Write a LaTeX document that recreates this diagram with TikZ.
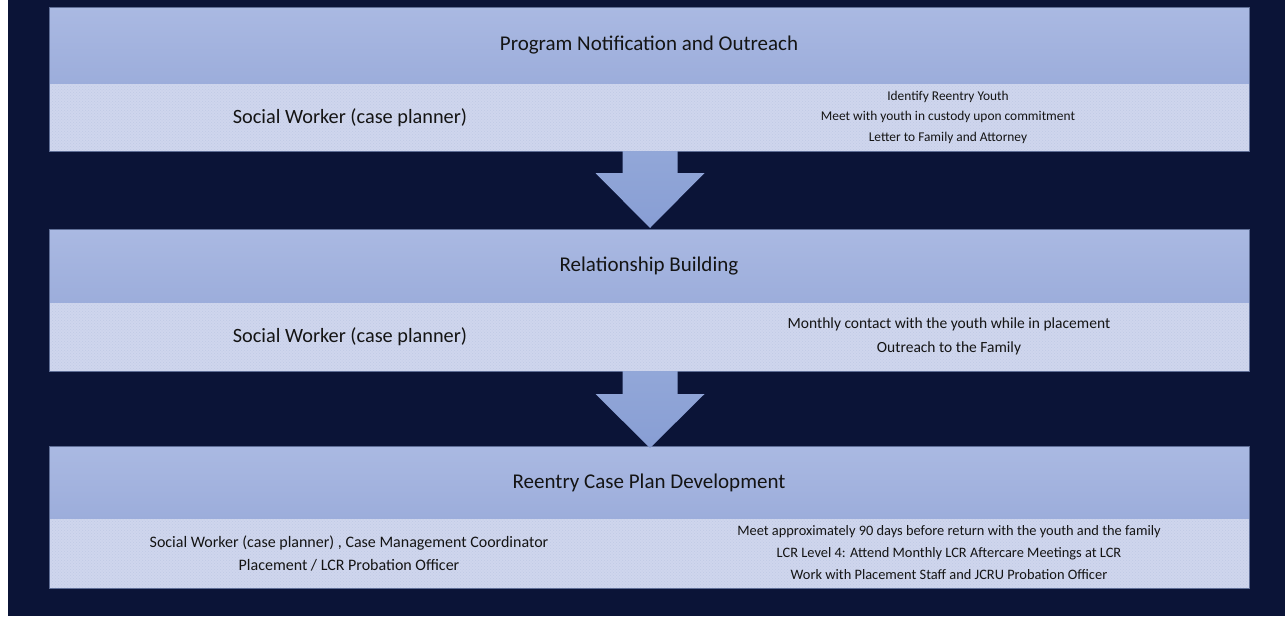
\documentclass[tikz,border=0pt]{standalone}
\usepackage{fontspec}
\setmainfont{Carlito}
\usetikzlibrary{patterns,calc}
\definecolor{navy}{RGB}{11,20,55}
\definecolor{headtop}{RGB}{170,185,226}
\definecolor{headbot}{RGB}{156,173,219}
\definecolor{contentc}{RGB}{207,214,237}
\definecolor{dotc}{RGB}{192,201,229}
\definecolor{arrowtop}{RGB}{146,167,216}
\definecolor{arrowbot}{RGB}{136,158,212}
\definecolor{edgec}{RGB}{95,110,150}
\definecolor{txt}{RGB}{20,20,20}
\begin{document}
\begin{tikzpicture}[x=1pt,y=-1pt,
  header/.style={shade, top color=headtop, bottom color=headbot, minimum width=1200, anchor=north west, inner sep=0, outer sep=0},
  contentbox/.style={fill=contentc, minimum width=1200, anchor=north west, inner sep=0, outer sep=0},
  frame/.style={draw=edgec, line width=0.9pt},
  title/.style={text=txt, font=\fontsize{21}{25}\selectfont},
  role/.style={text=txt, font=\fontsize{20.3}{24}\selectfont, align=center},
  tasks/.style={text=txt, align=center},
  blockarrow/.style={shade, top color=arrowtop, bottom color=arrowbot}
]
\useasboundingbox (0,0) rectangle (1288,616);
\fill[white] (0,0) rectangle (1288,616);
\fill[navy] (8,0) rectangle (1285,616);

% box 1
\node[header, minimum height=77] (h1) at (49,7) {};
\node[contentbox, minimum height=67] (c1) at (49,84) {};
\fill[pattern=crosshatch dots, pattern color=dotc] (c1.north west) rectangle (c1.south east);
\draw[frame] (h1.north west) rectangle (c1.south east);
\node[title] (t1) at (h1.center) {Program Notification and Outreach};
\node[role] (r1) at (350,118) {Social Worker (case planner)};
\node[tasks, font=\fontsize{13.4}{20.5}\selectfont] (k1) at (948,117) {Identify Reentry Youth\\Meet with youth in custody upon commitment\\Letter to Family and Attorney};

% box 2
\node[header, minimum height=74] (h2) at (49,229) {};
\node[contentbox, minimum height=68] (c2) at (49,303) {};
\fill[pattern=crosshatch dots, pattern color=dotc] (c2.north west) rectangle (c2.south east);
\draw[frame] (h2.north west) rectangle (c2.south east);
\node[title] (t2) at (h2.center) {Relationship Building};
\node[role] (r2) at (350,337) {Social Worker (case planner)};
\node[tasks, font=\fontsize{15.5}{24}\selectfont] (k2) at (949,336) {Monthly contact with the youth while in placement\\Outreach to the Family};

% box 3
\node[header, minimum height=73] (h3) at (49,446) {};
\node[contentbox, minimum height=69] (c3) at (49,519) {};
\fill[pattern=crosshatch dots, pattern color=dotc] (c3.north west) rectangle (c3.south east);
\draw[frame] (h3.north west) rectangle (c3.south east);
\node[title] (t3) at (h3.center) {Reentry Case Plan Development};
\node[tasks, font=\fontsize{16}{23}\selectfont] (r3) at (349,553.5) {Social Worker (case planner) , Case Management Coordinator\\Placement / LCR Probation Officer};
\node[tasks, font=\fontsize{14.4}{22}\selectfont] (k3) at (949,553) {Meet approximately 90 days before return with the youth and the family\\LCR Level 4: Attend Monthly LCR Aftercare Meetings at LCR\\Work with Placement Staff and JCRU Probation Officer};

% block arrows
\path[blockarrow] let \p1=(c1.south), \p2=(h2.north) in
  (650-27.5,\y1) -- (650+27.5,\y1) -- (650+27.5,\y1-22) -- (650+54.5,\y1-22)
  -- (650,\y2+1) -- (650-54.5,\y1-22) -- (650-27.5,\y1-22) -- cycle;
\path[blockarrow] let \p1=(c2.south), \p2=(h3.north) in
  (650-27.5,\y1) -- (650+27.5,\y1) -- (650+27.5,\y1-23) -- (650+54.5,\y1-23)
  -- (650,\y2-2) -- (650-54.5,\y1-23) -- (650-27.5,\y1-23) -- cycle;
\end{tikzpicture}
\end{document}
